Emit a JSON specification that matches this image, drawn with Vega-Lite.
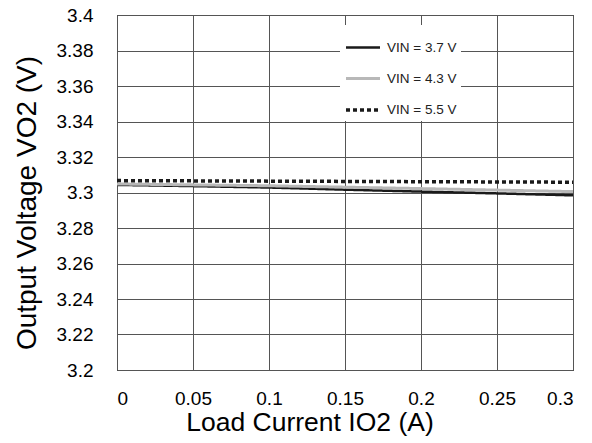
{
  "$schema": "https://vega.github.io/schema/vega-lite/v6.json",
  "autosize": {"type": "none"},
  "padding": {"left": 117, "top": 15, "right": 19, "bottom": 73},
  "width": 456,
  "height": 355,
  "background": "white",
  "config": {
    "font": "Liberation Sans",
    "view": {"stroke": "black", "strokeWidth": 1},
    "legend": {
      "title": null, "orient": "none", "legendX": 223, "legendY": 10,
      "fillColor": "white", "padding": 4, "labelFontSize": 13.5, "labelColor": "#222",
      "symbolType": "stroke", "symbolSize": 1156, "rowPadding": 6, "labelOffset": 5
    }
  },
  "data": {
    "values": [
      {"current": 0, "voltage": 3.3043, "series": "VIN = 3.7 V"},
      {"current": 0.05, "voltage": 3.3036, "series": "VIN = 3.7 V"},
      {"current": 0.1, "voltage": 3.3028, "series": "VIN = 3.7 V"},
      {"current": 0.15, "voltage": 3.3016, "series": "VIN = 3.7 V"},
      {"current": 0.2, "voltage": 3.3005, "series": "VIN = 3.7 V"},
      {"current": 0.25, "voltage": 3.2995, "series": "VIN = 3.7 V"},
      {"current": 0.3, "voltage": 3.2984, "series": "VIN = 3.7 V"},
      {"current": 0, "voltage": 3.3048, "series": "VIN = 4.3 V"},
      {"current": 0.1, "voltage": 3.3038, "series": "VIN = 4.3 V"},
      {"current": 0.2, "voltage": 3.3022, "series": "VIN = 4.3 V"},
      {"current": 0.3, "voltage": 3.3005, "series": "VIN = 4.3 V"},
      {"current": 0, "voltage": 3.3067, "series": "VIN = 5.5 V"},
      {"current": 0.3, "voltage": 3.3058, "series": "VIN = 5.5 V"}
    ]
  },
  "mark": {"type": "line", "clip": true},
  "encoding": {
    "x": {
      "field": "current", "type": "quantitative",
      "scale": {"domain": [0, 0.3], "nice": false},
      "axis": {
        "title": "Load Current IO2 (A)", "values": [0, 0.05, 0.1, 0.15, 0.2, 0.25, 0.3],
        "format": "~g", "labelFontSize": 19, "labelFontWeight": "normal", "labelColor": "black", "labelPadding": 19,
        "tickSize": 0, "domain": false, "grid": true, "gridColor": "#555", "gridOpacity": 1,
        "titleFontSize": 26.5, "titleFontWeight": "normal", "titleColor": "black", "titlePadding": 1.5,
        "titleX": 192.5, "titleAlign": "center"
      }
    },
    "y": {
      "field": "voltage", "type": "quantitative",
      "scale": {"domain": [3.2, 3.4], "nice": false, "zero": false},
      "axis": {
        "title": "Output Voltage VO2 (V)",
        "values": [3.2, 3.22, 3.24, 3.26, 3.28, 3.3, 3.32, 3.34, 3.36, 3.38, 3.4],
        "format": "~g", "labelFontSize": 19, "labelFontWeight": "normal", "labelColor": "black", "labelPadding": 24,
        "tickSize": 0, "domain": false, "grid": true, "gridColor": "#555", "gridOpacity": 1,
        "titleFontSize": 28, "titleFontWeight": "normal", "titleColor": "black",
        "titleX": -76, "titleY": 187.5, "titleAlign": "center", "titleBaseline": "bottom", "titleAngle": 270
      }
    },
    "color": {
      "field": "series", "type": "nominal",
      "scale": {"domain": ["VIN = 3.7 V", "VIN = 4.3 V", "VIN = 5.5 V"], "range": ["#1a1a1a", "#b8b8b8", "#1a1a1a"]}
    },
    "strokeDash": {
      "field": "series", "type": "nominal",
      "scale": {"domain": ["VIN = 3.7 V", "VIN = 4.3 V", "VIN = 5.5 V"], "range": [[1, 0], [1, 0], [4, 3]]}
    },
    "strokeWidth": {
      "field": "series", "type": "nominal",
      "scale": {"domain": ["VIN = 3.7 V", "VIN = 4.3 V", "VIN = 5.5 V"], "range": [2.5, 3.5, 2.5]}
    },
    "order": {"field": "series", "sort": "descending"}
  }
}
